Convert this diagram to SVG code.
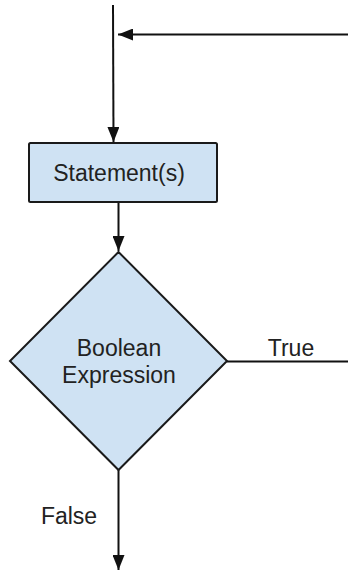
<svg xmlns="http://www.w3.org/2000/svg" width="348" height="571" viewBox="0 0 348 571">
  <style>
    .node { fill: #cfe2f3; stroke: #1a1a1a; stroke-width: 2; }
    .edge { fill: none; stroke: #111; stroke-width: 2; }
    .lbl { font-family: "Liberation Sans", Arial, sans-serif; font-size: 23px; fill: #222; }
  </style>
  <defs>
    <marker id="arr" markerUnits="userSpaceOnUse" markerWidth="16" markerHeight="12" refX="15" refY="6" orient="auto">
      <path d="M0,0 L15,6 L0,12 Z" fill="#111"/>
    </marker>
  </defs>
  <rect width="348" height="571" fill="#ffffff"/>
  <g id="connectors">
    <line class="edge" x1="113" y1="5" x2="113.5" y2="142" marker-end="url(#arr)"/>
    <line class="edge" x1="348" y1="34.5" x2="118" y2="34.5" marker-end="url(#arr)"/>
    <line class="edge" x1="118.5" y1="202" x2="118.5" y2="251" marker-end="url(#arr)"/>
    <line class="edge" x1="227" y1="361.5" x2="348" y2="361.5"/>
    <line class="edge" x1="118.5" y1="470" x2="118.5" y2="570" marker-end="url(#arr)"/>
    <text class="lbl" x="291" y="356" text-anchor="middle">True</text>
    <text class="lbl" x="69" y="524" text-anchor="middle">False</text>
  </g>
  <g id="statements">
    <rect class="node" x="29" y="143" width="188" height="59" rx="1.5"/>
    <text class="lbl" x="119" y="181" text-anchor="middle">Statement(s)</text>
  </g>
  <g id="boolean-expression">
    <polygon class="node" points="118.5,252 227,361 118.5,470 10,361"/>
    <text class="lbl" x="119" y="356" text-anchor="middle">Boolean</text>
    <text class="lbl" x="119" y="383" text-anchor="middle">Expression</text>
  </g>
</svg>
